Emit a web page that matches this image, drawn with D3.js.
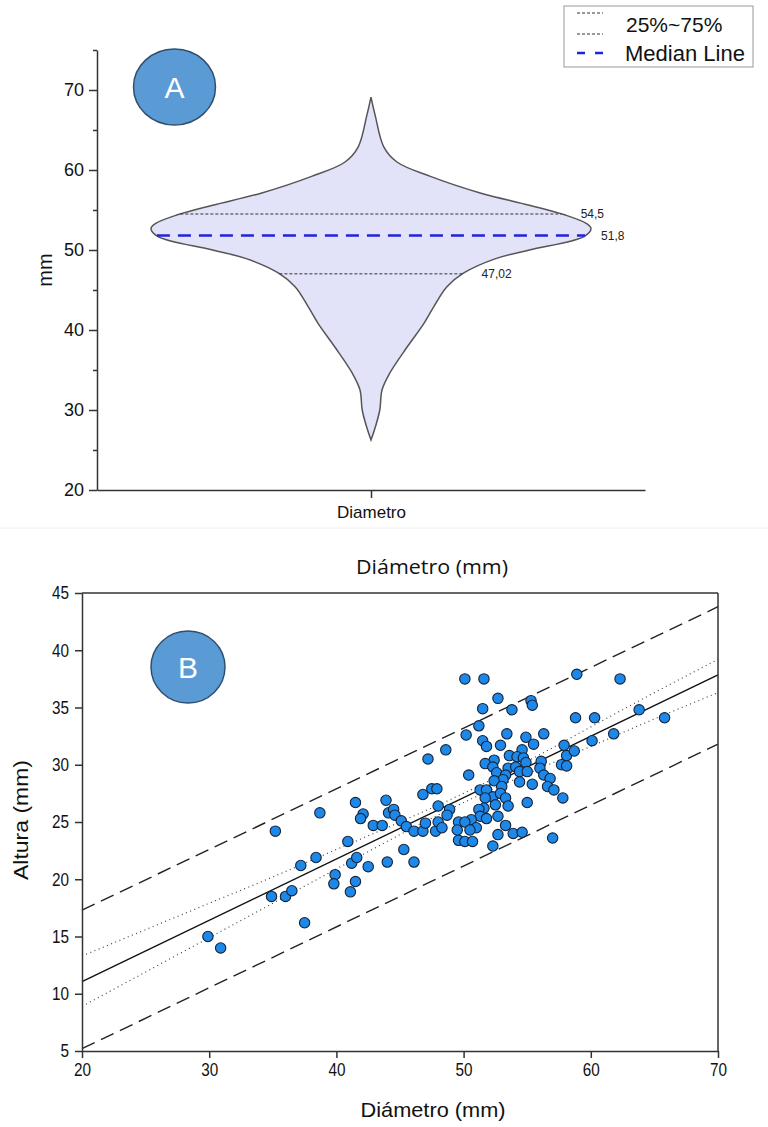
<!DOCTYPE html>
<html>
<head>
<meta charset="utf-8">
<script src="https://cdn.jsdelivr.net/npm/d3@7"></script>
<style>
  body { margin: 0; background: #fff; }
  svg { display: block; font-family: "Liberation Sans", Arial, sans-serif; }
</style>
</head>
<body>
<script>
// ---- panel A: violin ----
var violinCategory = ["Diametro"];
var violinValues  = [26.25, 27.9, 30.0, 32.5, 34.6, 37.9, 40.8, 42.9, 45.4, 47.1, 48.95, 50.0, 51.7, 52.7, 53.3, 54.4, 55.6, 57.1, 59.2, 61.0, 62.9, 66.7, 69.1];
var violinDensity = [0, 0.02, 0.04, 0.05, 0.085, 0.165, 0.24, 0.285, 0.345, 0.42, 0.57, 0.72, 0.97, 1.0, 0.98, 0.88, 0.72, 0.5, 0.27, 0.118, 0.058, 0.02, 0];
var quartileValues = [54.5, 47.02];
var quartileLabels = ["54,5", "47,02"];
var medianValue = 51.8;
var medianLabel = "51,8";
var yTicksA = [20, 30, 40, 50, 60, 70];
var yMinorA = [25, 35, 45, 55, 65, 75];

// ---- panel B: scatter ----
var diametro = [29.9, 30.9, 34.9, 36.0, 36.5, 35.2, 37.2, 38.4, 37.5, 38.7, 39.9, 39.8, 41.1, 41.2, 41.6, 41.5, 40.9, 41.5, 42.1, 41.9,
  42.5, 42.9, 43.6, 43.9, 44.1, 44.5, 44.6, 45.1, 45.3, 45.5, 46.1, 46.1, 44.0, 46.8, 47.0, 46.8, 47.5, 47.9, 47.8, 48.0,
  48.0, 47.2, 48.6, 48.9, 48.7, 48.3, 49.6, 50.1, 50.7, 52.3, 57.0,
  51.2, 50.2, 53.4, 54.9, 56.3, 55.5, 51.5, 51.8, 52.9, 54.6, 53.6, 54.2, 54.7, 54.9, 52.4, 51.7, 52.3, 53.5, 54.1, 54.4,
  55.0, 56.1, 56.0, 57.7, 58.1, 57.9, 58.7, 58.1, 56.3, 56.8, 56.6, 57.1, 57.8, 52.6, 53.3, 53.1, 52.4, 53.0, 54.4, 55.4,
  50.4, 51.3, 51.8, 52.3, 51.7, 52.9, 53.3, 53.5, 55.0, 52.5, 51.6, 51.2, 51.3, 51.8, 52.7, 50.6, 49.6, 50.1, 51.0, 50.5,
  49.5, 53.3, 53.9, 54.6, 52.7,
  50.1, 51.6, 58.9, 62.3, 52.7, 51.5, 53.8, 55.3, 55.4, 58.8, 60.3, 63.8, 65.8, 61.8, 60.1];
var altura = [15.0, 14.0, 18.5, 18.5, 19.0, 24.2, 21.2, 21.9, 16.2, 25.8, 20.4, 19.6, 18.9, 21.4, 21.9, 19.8, 23.3, 26.7, 25.7, 25.3,
  21.1, 24.7, 24.7, 26.9, 25.8, 26.1, 25.6, 25.1, 22.6, 24.6, 21.5, 24.2, 21.5, 24.2, 24.9, 27.4, 27.9, 27.9, 24.2, 25.0,
  26.4, 30.5, 31.3, 26.1, 25.6, 24.5, 23.4, 23.3, 23.3, 22.9, 23.6,
  33.4, 32.6, 32.7, 32.4, 32.7, 31.8, 32.1, 31.6, 31.7, 31.3, 30.8, 30.7, 30.6, 30.2, 30.4, 30.1, 29.8, 29.7, 29.8, 29.4,
  29.4, 30.3, 29.7, 30.0, 30.8, 31.7, 31.2, 29.9, 29.1, 28.8, 28.1, 27.8, 27.1, 29.3, 29.1, 28.7, 28.6, 28.1, 28.5, 28.3,
  29.1, 27.8, 27.8, 27.2, 27.1, 27.5, 27.1, 26.4, 26.7, 26.5, 26.2, 26.1, 25.5, 25.3, 25.5, 25.2, 25.0, 25.0, 24.5, 24.3,
  24.3, 24.7, 24.0, 24.1, 23.9,
  37.5, 37.5, 37.9, 37.5, 35.8, 34.9, 34.8, 35.6, 35.2, 34.1, 34.1, 34.8, 34.1, 32.7, 32.1];
var fitX = [20, 70];
var fitY = [11.05, 37.85];
var predUpper = [17.3, 43.8];
var predLower = [5.2, 31.8];
var ciX = [20, 25, 30, 35, 40, 45, 50, 55, 60, 65, 70];
var ciUpper = [13.3, 15.6, 17.9, 20.2, 22.6, 25.0, 27.5, 30.3, 33.3, 36.3, 39.2];
var ciLower = [8.9, 11.9, 14.9, 17.9, 20.9, 23.9, 26.7, 29.2, 31.6, 34.0, 36.3];
var xTicksB = [20, 30, 40, 50, 60, 70];
var yTicksB = [5, 10, 15, 20, 25, 30, 35, 40, 45];

var FONT = "'Liberation Sans', Arial, sans-serif";

var svg = d3.select("body").append("svg")
  .attr("width", 768)
  .attr("height", 1127);

svg.append("rect").attr("width", 768).attr("height", 1127).attr("fill", "#fff");

// ===== Panel A =====
var yA = d3.scaleLinear().domain([20, 75]).range([490, 50]);
var xA = d3.scalePoint().domain(violinCategory).range([97, 645]).padding(0.5);
var wA = d3.scaleLinear().domain([0, 1]).range([0, 220]);

var pairs = violinValues.map(function(v, i) { return {v: v, d: violinDensity[i]}; });
var halfAt = d3.scaleLinear().domain(violinValues).range(violinDensity);
var cx = xA("Diametro");

var area = d3.area()
  .y(function(d) { return yA(d.v); })
  .x0(function(d) { return cx - wA(d.d); })
  .x1(function(d) { return cx + wA(d.d); })
  .curve(d3.curveCatmullRom.alpha(0.5));

svg.append("path")
  .datum(pairs)
  .attr("d", area)
  .attr("fill", "#e2e2f9")
  .attr("stroke", "#555")
  .attr("stroke-width", 1.5);

// quartile lines
quartileValues.forEach(function(q, i) {
  var hw = wA(halfAt(q));
  svg.append("line")
    .attr("x1", cx - hw).attr("x2", cx + hw)
    .attr("y1", yA(q)).attr("y2", yA(q))
    .attr("stroke", "#333").attr("stroke-width", 1)
    .attr("stroke-dasharray", "3,2");
  svg.append("text")
    .attr("x", cx + hw + 19).attr("y", yA(q))
    .attr("dy", "0.35em")
    .attr("font-size", 12).attr("fill", "#222")
    .text(quartileLabels[i]);
});

var mw = wA(halfAt(medianValue));
svg.append("line")
  .attr("x1", cx - mw).attr("x2", cx + mw)
  .attr("y1", yA(medianValue)).attr("y2", yA(medianValue))
  .attr("stroke", "#2222dd").attr("stroke-width", 2.5)
  .attr("stroke-dasharray", "13,8");
svg.append("text")
  .attr("x", cx + mw + 16).attr("y", yA(medianValue))
  .attr("dy", "0.35em")
  .attr("font-size", 12).attr("fill", "#222")
  .text(medianLabel);

// axes A
var yAxisA = svg.append("g")
  .attr("transform", "translate(97,0)")
  .call(d3.axisLeft(yA).tickValues(yTicksA).tickSize(8).tickSizeOuter(0).tickPadding(5));
yAxisA.attr("font-family", FONT);
yAxisA.selectAll("text").attr("font-size", 18).attr("fill", "#111");
svg.append("g")
  .attr("transform", "translate(97,0)")
  .call(d3.axisLeft(yA).tickValues(yMinorA).tickSize(4).tickFormat(""))
  .select(".domain").remove();

var xAxisA = svg.append("g")
  .attr("transform", "translate(0,490)")
  .call(d3.axisBottom(xA).tickSize(8).tickSizeOuter(0).tickPadding(8));
xAxisA.attr("font-family", FONT);
xAxisA.selectAll("text").attr("font-size", 17).attr("fill", "#111");

svg.selectAll(".domain, .tick line").attr("stroke", "#333").attr("stroke-width", 1.5);

svg.append("text")
  .attr("transform", "translate(52,270) rotate(-90)")
  .attr("text-anchor", "middle")
  .attr("font-size", 20).attr("fill", "#111")
  .text("mm");

// badge A
svg.append("ellipse")
  .attr("cx", 174.5).attr("cy", 87).attr("rx", 41).attr("ry", 38)
  .attr("fill", "#5b9bd5").attr("stroke", "#2f4f70").attr("stroke-width", 1.5);
svg.append("text")
  .attr("x", 174.5).attr("y", 87).attr("dy", "0.36em")
  .attr("text-anchor", "middle").attr("font-size", 30).attr("fill", "#fff")
  .text("A");

// legend
var leg = svg.append("g");
leg.append("rect")
  .attr("x", 564).attr("y", 6).attr("width", 189).attr("height", 61)
  .attr("fill", "#fff").attr("stroke", "#999").attr("stroke-width", 1);
[13, 34].forEach(function(yy) {
  leg.append("line").attr("x1", 577).attr("x2", 603).attr("y1", yy).attr("y2", yy)
    .attr("stroke", "#333").attr("stroke-width", 1).attr("stroke-dasharray", "3,2");
});
leg.append("line").attr("x1", 577).attr("x2", 605).attr("y1", 53).attr("y2", 53)
  .attr("stroke", "#2222dd").attr("stroke-width", 2.5).attr("stroke-dasharray", "8,10");
leg.append("text").attr("x", 626).attr("y", 25).attr("dy", "0.35em")
  .attr("font-size", 21).attr("fill", "#111").text("25%~75%");
leg.append("text").attr("x", 625).attr("y", 53).attr("dy", "0.35em")
  .attr("font-size", 22).attr("fill", "#111").text("Median Line");

// faint separator
svg.append("line").attr("x1", 0).attr("x2", 768).attr("y1", 528).attr("y2", 528)
  .attr("stroke", "#f0f0f0").attr("stroke-width", 1);

// ===== Panel B =====
var xB = d3.scaleLinear().domain([20, 70]).range([82, 718]);
var yB = d3.scaleLinear().domain([5, 45]).range([1051, 593]);

var gB = svg.append("g");

var line2 = d3.line()
  .x(function(d) { return xB(d[0]); })
  .y(function(d) { return yB(d[1]); });

gB.append("path")
  .datum(d3.zip(fitX, predUpper))
  .attr("d", line2).attr("fill", "none")
  .attr("stroke", "#222").attr("stroke-width", 1.4).attr("stroke-dasharray", "14,7");
gB.append("path")
  .datum(d3.zip(fitX, predLower))
  .attr("d", line2).attr("fill", "none")
  .attr("stroke", "#222").attr("stroke-width", 1.4).attr("stroke-dasharray", "14,7");

var lineCurve = d3.line()
  .x(function(d) { return xB(d[0]); })
  .y(function(d) { return yB(d[1]); })
  .curve(d3.curveMonotoneX);
gB.append("path")
  .datum(d3.zip(ciX, ciUpper))
  .attr("d", lineCurve).attr("fill", "none")
  .attr("stroke", "#444").attr("stroke-width", 1.2).attr("stroke-dasharray", "1,3.5");
gB.append("path")
  .datum(d3.zip(ciX, ciLower))
  .attr("d", lineCurve).attr("fill", "none")
  .attr("stroke", "#444").attr("stroke-width", 1.2).attr("stroke-dasharray", "1,3.5");

gB.append("path")
  .datum(d3.zip(fitX, fitY))
  .attr("d", line2).attr("fill", "none")
  .attr("stroke", "#111").attr("stroke-width", 1.4);

gB.selectAll("circle.pt")
  .data(d3.zip(diametro, altura))
  .enter().append("circle")
  .attr("class", "pt")
  .attr("cx", function(d) { return xB(d[0]); })
  .attr("cy", function(d) { return yB(d[1]); })
  .attr("r", 5.2)
  .attr("fill", "#1e88e8")
  .attr("stroke", "#14233a")
  .attr("stroke-width", 1.1);

// frame
gB.append("line").attr("x1", 82).attr("x2", 718).attr("y1", 593).attr("y2", 593)
  .attr("stroke", "#333").attr("stroke-width", 1.5);
gB.append("line").attr("x1", 718).attr("x2", 718).attr("y1", 593).attr("y2", 1051)
  .attr("stroke", "#333").attr("stroke-width", 1.5);

var yAxisB = gB.append("g")
  .attr("transform", "translate(82,0)")
  .call(d3.axisLeft(yB).tickValues(yTicksB).tickSize(7).tickSizeOuter(0).tickPadding(5));
var xAxisB = gB.append("g")
  .attr("transform", "translate(0,1051)")
  .call(d3.axisBottom(xB).tickValues(xTicksB).tickSize(7).tickSizeOuter(0).tickPadding(5));
yAxisB.attr("font-family", FONT);
xAxisB.attr("font-family", FONT);
gB.selectAll(".domain, .tick line").attr("stroke", "#333").attr("stroke-width", 1.5);
// narrow-looking tick labels
yAxisB.selectAll(".tick text")
  .attr("font-size", 18).attr("fill", "#111")
  .attr("x", null)
  .attr("transform", "translate(-13,0) scale(0.85,1)");
xAxisB.selectAll(".tick text")
  .attr("font-size", 18).attr("fill", "#111")
  .attr("transform", "scale(0.85,1)");

gB.append("text")
  .attr("x", 432).attr("y", 567).attr("dy", "0.35em")
  .attr("text-anchor", "middle")
  .attr("font-family", "'Open Sans', sans-serif")
  .attr("font-size", 20).attr("fill", "#111")
  .attr("textLength", 152).attr("lengthAdjust", "spacingAndGlyphs")
  .text("Diámetro (mm)");
gB.append("text")
  .attr("x", 433).attr("y", 1110).attr("dy", "0.35em")
  .attr("text-anchor", "middle")
  .attr("font-size", 21).attr("fill", "#111")
  .attr("textLength", 145).attr("lengthAdjust", "spacingAndGlyphs")
  .text("Diámetro (mm)");
gB.append("text")
  .attr("transform", "translate(21,820) rotate(-90)")
  .attr("dy", "0.35em")
  .attr("text-anchor", "middle")
  .attr("font-size", 21).attr("fill", "#111")
  .attr("textLength", 120).attr("lengthAdjust", "spacingAndGlyphs")
  .text("Altura (mm)");

// badge B
svg.append("ellipse")
  .attr("cx", 188).attr("cy", 667).attr("rx", 37).attr("ry", 36)
  .attr("fill", "#5b9bd5").attr("stroke", "#2f4f70").attr("stroke-width", 1.5);
svg.append("text")
  .attr("x", 188).attr("y", 667).attr("dy", "0.36em")
  .attr("text-anchor", "middle").attr("font-size", 30).attr("fill", "#fff")
  .text("B");
</script>
</body>
</html>
